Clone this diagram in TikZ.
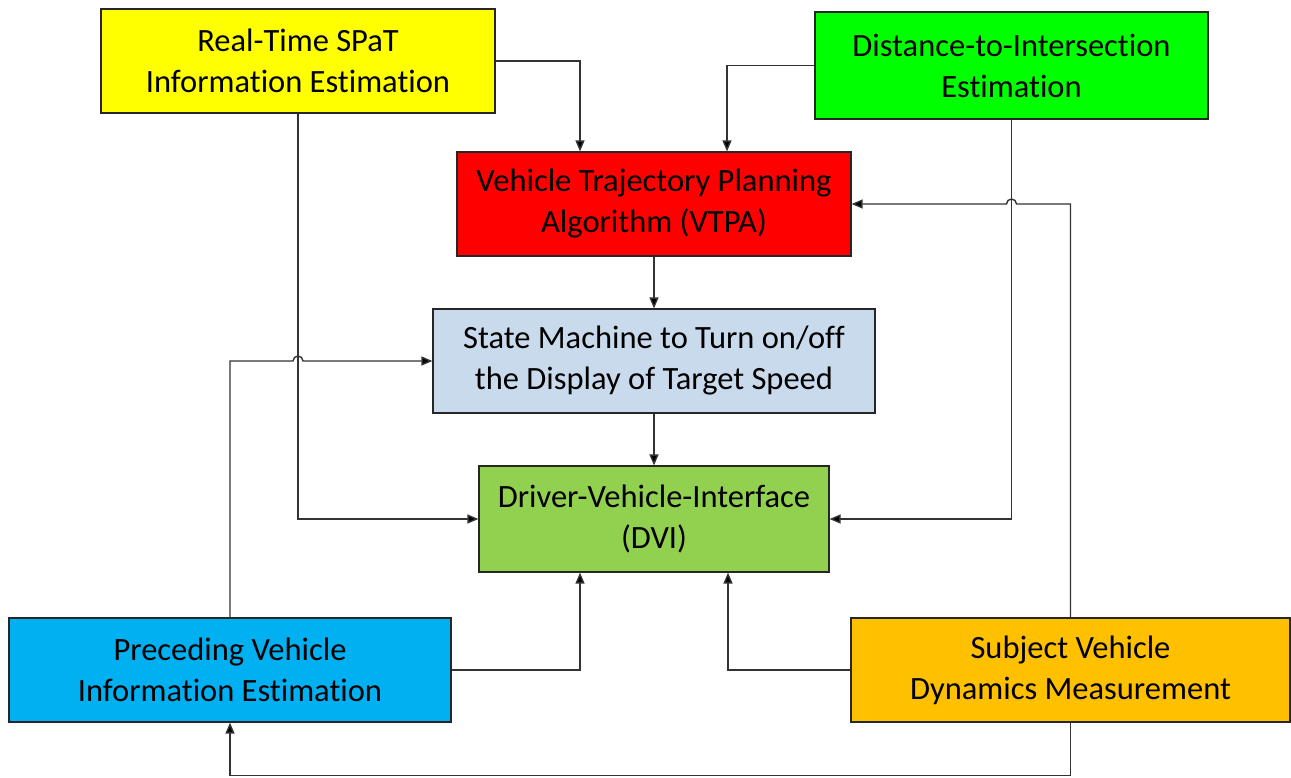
\documentclass[tikz,border=0pt]{standalone}
\usepackage{fontspec}
\setmainfont{Carlito}[RawFeature={-liga;-clig;-calt;-dlig;-rlig}]
\usetikzlibrary{arrows.meta,calc}
\definecolor{cyel}{HTML}{FFFF00}
\definecolor{cgrn}{HTML}{00FF00}
\definecolor{cred}{HTML}{FF0000}
\definecolor{cstate}{HTML}{C8DAEB}
\definecolor{cdvi}{HTML}{92D050}
\definecolor{cprec}{HTML}{00B0F0}
\definecolor{csubj}{HTML}{FFC000}
\tikzset{
  blk/.style={draw=black!85, line width=1.2pt, align=center, inner sep=0pt,
    font=\fontsize{32.5pt}{41pt}\selectfont},
  conn/.style={draw=black!80, line width=1.4pt, -{Triangle[length=11pt,width=9pt,fill=black]}},
}
\begin{document}
\begin{tikzpicture}[x=1pt,y=-1pt]
\useasboundingbox (0,0) rectangle (1291,777);
\node[blk, fill=cyel, minimum width=394pt, minimum height=104pt] (spat) at (298,61) {Real-Time SPaT\\Information Estimation};
\node[blk, fill=cgrn, minimum width=393pt, minimum height=107pt] (dist) at (1011.5,65.5) {Distance-to-Intersection\\Estimation};
\node[blk, fill=cred, minimum width=394pt, minimum height=104pt] (vtpa) at (654,204) {Vehicle Trajectory Planning\\Algorithm (VTPA)};
\node[blk, fill=cstate, minimum width=442pt, minimum height=104pt] (state) at (654,361) {State Machine to Turn on/off\\the Display of Target Speed};
\node[blk, fill=cdvi, minimum width=350pt, minimum height=106pt] (dvi) at (654,519) {Driver-Vehicle-Interface\\(DVI)};
\node[blk, fill=cprec, minimum width=442pt, minimum height=104pt] (prec) at (230,670) {Preceding Vehicle\\Information Estimation};
\node[blk, fill=csubj, minimum width=439pt, minimum height=104pt] (subj) at (1070.5,670) {Subject Vehicle\\Dynamics Measurement};
% connectors
\draw[conn] (spat.east) -| ([xshift=-74pt]vtpa.north);
\draw[conn] (dist.west) -| ([xshift=73pt]vtpa.north);
\draw[conn] (vtpa.south) -- (state.north);
\draw[conn] (state.south) -- (dvi.north);
\draw[conn] (spat.south) |- (dvi.west);
\draw[conn] (dist.south) |- (dvi.east);
\draw[conn] (prec.north) -- (prec.north |- state.west)
  -- ($(spat.south |- state.west)+(-5,0)$)
  arc[start angle=180, end angle=0, radius=5pt] -- (state.west);
\draw[conn] (subj.north) -- (subj.north |- vtpa.east)
  -- ($(dist.south |- vtpa.east)+(5,0)$)
  arc[start angle=0, end angle=180, radius=5pt] -- (vtpa.east);
\draw[conn] (prec.east) -| ([xshift=-74pt]dvi.south);
\draw[conn] (subj.west) -| ([xshift=74pt]dvi.south);
\draw[conn] (subj.south) -- ++(0,53) -| (prec.south);
\end{tikzpicture}
\end{document}
